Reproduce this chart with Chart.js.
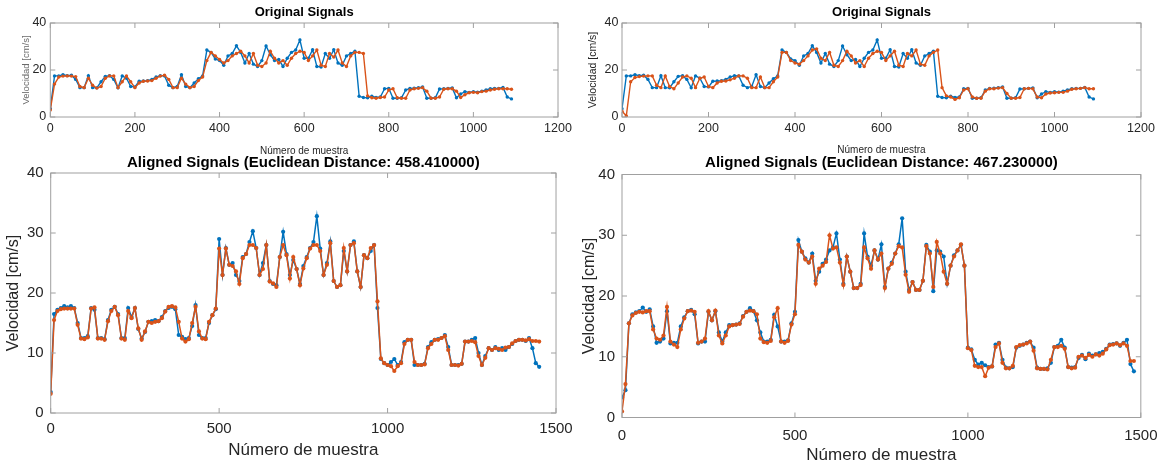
<!DOCTYPE html>
<html>
<head>
<meta charset="utf-8">
<script src="https://cdn.jsdelivr.net/npm/chart.js@4/dist/chart.umd.min.js"></script>
<style>
  body { margin: 0; background: #fff; }
  #wrap { position: relative; width: 1167px; height: 468px; overflow: hidden; }
  canvas { position: absolute; }
</style>
</head>
<body>
<div id="wrap">
  <canvas id="tl" width="580" height="160" style="left:0;top:0"></canvas>
  <canvas id="tr" width="587" height="160" style="left:580px;top:0"></canvas>
  <canvas id="bl" width="580" height="328" style="left:0;top:140px"></canvas>
  <canvas id="br" width="602" height="328" style="left:565px;top:140px"></canvas>
</div>
<script>
// sample spacing of the value arrays (every 10th sample)
const STEP = 10;

// reference signal (blue), same in both top panels
const origBlue = [3.5,17.5,17.5,18,17.6,17.8,16,12.5,12.5,17.6,
  12.5,12.4,15,17.3,17.6,16,12.4,17.5,16.5,13,
  12.8,15.2,15.3,15.5,16,17,17.6,17.5,13.5,12.5,
  13,18,13,12.5,14.5,16.3,17.5,28.5,27.5,24.7,
  24,22,26,27,30.3,27.5,23,27,22.5,21.5,
  24,30.2,26.5,24,24.5,21.5,25,27.5,28.5,32.8,
  25,25,28.6,21.5,21.3,27,25,28.6,23,22,
  26,27,28,8.8,8.3,8.2,8.8,8.3,8.5,12,
  12.2,8,8,8.2,11.5,12.2,12.3,12.5,12.8,8,
  8,8.2,11.9,12,12.2,12.4,8.2,9.8,10.8,10.5,
  10.8,10.6,11,11.5,12,12.2,12.2,12.6,8.5,7.7];

const origOrangeA = [3,14,17,17.4,17.5,17.4,17.2,13,12.5,16.5,
  13.5,12.3,13,16.5,17.5,17.5,12.5,15,17.5,15,
  12.5,14.5,15.2,15.3,15.5,16.5,17.4,17.8,16,12.5,
  12.5,16.5,14,12.5,13,15.5,17,24,27.5,26,
  24.5,23,24,26,27,28,26,23,27,22,
  21.5,23,28,25,23,24,22,25,27,28,
  27.5,24,26,28.5,22,21.5,27,25.5,28.5,23,
  21.5,26,27.5,27.5,27,9,8.2,8,8.3,8.5,
  11.5,12,8.2,8,8,11.5,12,12.2,12.5,11,
  8,8,8.5,11.8,12,12,11,8.3,9.5,10.3,
  10.5,10.3,10.8,11,11.5,11.8,12,12,12,11.8];

const origOrangeB = [2.5,0.5,15,16.8,17.2,17.4,17.5,17.5,13.5,12.5,
  17.5,13,12,14.5,17,17.5,16.5,12.5,16.5,17,
  13,12.5,14.5,15.2,15.3,15.8,16.5,17.5,17.5,16.5,
  12.5,12.5,17,12.5,12.5,15,17,27.5,27.5,24,
  23,22.5,24,26,28.5,29,25,24,27.5,22,
  21.5,24,28,26,23,24,21.5,25,27,28,
  27.5,24,26,28,22,21.5,27,26,28.5,22.5,
  22,26,27.5,28.5,12.5,9,8.5,7.5,8.2,11.5,
  12,8.5,8,8,11,12,12,12.3,12.5,10,
  8,8,8.3,12,12.2,12,8.5,8.2,9.8,10.2,
  10.3,10.5,10.5,11,11.8,12,12.2,12.5,12,12];

// aligned signals, left panel (distance 458.41)
const alignBlueA = [3.5,16.5,17.2,17.5,17.8,17.6,17.8,17.5,15,12.5,
  12.5,12.8,17.5,17.2,12.5,12.5,12.3,15.5,17.2,17.7,
  16.5,12.5,12.5,17.5,16,17.5,14,12.4,13.5,15.2,
  15.3,15.5,15.3,16,17,17.5,17.7,17.3,13,12.7,
  12.3,12.5,14.5,18,13,12.5,12.5,15,16.3,17.3,
  29,23,27.5,24.7,25,23,22,26,26.5,28.5,
  30.3,27.5,23,25,28,22,21.5,21.3,26,30.2,
  26.5,23,25.5,24,21.5,24.5,26,27.5,28.5,32.8,
  27.4,23,25,28.6,22,21,21.3,27,23.6,28,
  28.6,23.6,21,26.3,25.8,27,28,17.5,9,8.3,
  8,8.5,9,8,8.5,11.8,12.2,12.2,8,8,
  8,8.2,11,11.8,12.2,12.3,12.5,13,11,8,
  8,8,8.2,11.9,11.9,12.2,12.5,10,8,9.5,
  10.8,10.5,11,10.5,10.8,10.5,11,11.5,12,12.2,
  12.2,12,12.5,10.8,8.3,7.7];

const alignOrangeA = [3.2,15.5,17,17.3,17.4,17.4,17.4,17.4,14.7,12.4,
  12.3,12.6,17.4,17.6,12.4,12.4,12.2,15.3,17,17.7,
  16.3,12.4,12.2,17,15.8,17.5,14.1,12.2,13.6,15.2,
  15,15.2,15.3,15.8,16.9,17.7,17.8,17.6,15.2,12.4,
  11.9,12.3,15,17.7,13.6,12.4,12.3,15.2,16.3,17.4,
  27.4,23,27.4,24.7,24.5,23.6,21.5,25.8,26.5,28,
  28,27.5,23,24,28,21.9,21.6,21,26,28,
  26.3,22.4,26,24,21.3,24.1,25.8,27.4,28,28,
  27,23,24.7,28.3,22,21,21.3,27.5,23.6,28,
  28.3,23.6,21,26.3,25.8,27.5,28,18.6,9.1,8.3,
  8,7.8,7,7.8,8.3,11.5,12.2,12.2,8.5,8,
  8,8.1,10.8,11.5,12.2,12.2,12.5,12.8,10.5,8,
  8,7.9,8.2,11.9,11.9,12,11.8,9.5,8,9.2,
  10.8,10.5,10.8,10.7,10.5,10.9,11,11.6,12,12.2,
  12.2,12.1,12.3,12,12,11.9];

// aligned signals, right panel (distance 467.23)
const alignBlueB = [3.3,4.5,15.5,17,17.3,17.5,18.1,17.4,17.8,15,
  12.3,12.5,13,17.5,12.2,12.3,12.3,15,16.5,17.5,
  17.7,17,12.2,12.5,12.5,17.4,16,17.5,14,12.5,
  14,15.2,15.2,15.3,15.5,16.7,17.4,18,17.5,16,
  14,12.5,12.5,12.8,16.9,15,12.5,12.5,12.7,15.5,
  17.4,29.2,27.3,26.2,25.5,27,22.5,24,25.3,26,
  27.5,28,30.3,26,22,26.5,24,21.3,21.3,22,
  30.3,26.5,25,27.5,26,28.5,21.5,24.5,25.5,27,
  28.5,32.8,24,21,22.3,21,21,22.5,28.4,27.3,
  20.8,27.5,27.3,26.5,22,25,26.7,27.5,28.4,25,
  11.5,11.2,9.5,8.7,9,8.6,8.3,8.4,12,12.3,
  9.5,8.2,8.1,8.3,11.5,11.8,12,12.3,12.5,11.5,
  8.2,8,8,8.1,9,11.6,11.8,12.8,11.5,8.3,
  8.2,8.3,9.8,10.3,9.6,10.5,10.2,10.4,10.6,10.8,
  11.3,12,12.1,12.2,11.8,12.3,12.8,8.8,7.6];

const alignOrangeB = [1,5.5,15.5,16.8,17.2,17.4,17.3,17.5,17.5,14.5,
  13,12.8,13.5,18.2,12.5,12,11.6,14.5,16.3,17.5,
  17.6,17.4,12.3,12.5,13,17.5,16,17.6,13.5,12.2,
  13.5,15,15.2,15.3,15.4,16.6,17.4,17.6,17.5,17,
  13,12.4,12.3,12.6,16.5,18,12.5,12.3,12.6,15.3,
  17,28.4,27.3,26,25.5,26.5,22,24.5,25,25.6,
  30,27.8,28,25.5,21.8,26.5,24,21.3,21.3,21.8,
  28,26.2,24.5,27.5,26,27,21.3,24.5,25.3,27,
  28.2,28,23.5,20.7,22.3,21,21,22.5,28.2,27,
  21.5,28.9,27,24,22,25,26.5,27.5,28.5,25,
  11.4,11.1,8.5,8.3,8.3,6.8,8.2,8.4,11.6,12.2,
  9,8.1,8.1,8.5,11.6,11.9,12,12.2,12.5,11,
  8.1,8,8,7.9,9.5,11.6,11.6,11.8,11.3,8.3,
  8.1,8.2,10,10.2,9.8,10.3,10,10.4,10.2,10.5,
  11.2,11.9,12,12.2,11.9,12.2,11.8,9.3,9.3];

const BLUE = '#0072BD';
const ORANGE = '#D95319';
const FONT = '"Liberation Sans", Arial, Helvetica, sans-serif';
const INK = '#262626';

Chart.defaults.font.family = FONT;
Chart.defaults.color = INK;

function toPoints(values) {
    return values.map((v, i) => ({ x: i * STEP, y: v }));
}

// MATLAB style box with inward ticks on all four sides
const boxPlugin = {
    id: 'matlabBox',
    afterDatasetsDraw(chart) {
        const { ctx, chartArea: a, scales: { x, y } } = chart;
        const tl = 5;
        ctx.save();
        ctx.strokeStyle = '#a0a0a0';
        ctx.lineWidth = 1;
        ctx.strokeRect(a.left, a.top, a.right - a.left, a.bottom - a.top);
        ctx.beginPath();
        x.ticks.forEach(t => {
            const px = x.getPixelForValue(t.value);
            ctx.moveTo(px, a.bottom); ctx.lineTo(px, a.bottom - tl);
            ctx.moveTo(px, a.top); ctx.lineTo(px, a.top + tl);
        });
        y.ticks.forEach(t => {
            const py = y.getPixelForValue(t.value);
            ctx.moveTo(a.left, py); ctx.lineTo(a.left + tl, py);
            ctx.moveTo(a.right, py); ctx.lineTo(a.right - tl, py);
        });
        ctx.stroke();
        ctx.restore();
    }
};

function makePanel(id, p) {
    const ds = (label, values, color, order) => ({
        label,
        data: toPoints(values),
        borderColor: color,
        backgroundColor: color,
        borderWidth: p.lineWidth,
        pointRadius: p.pointRadius,
        pointBorderWidth: 0,
        pointBackgroundColor: color,
        tension: 0,
        order
    });

    return new Chart(document.getElementById(id), {
        type: 'line',
        data: {
            datasets: [
                ds('Referencia', p.blue, BLUE, 2),
                ds('Prueba', p.orange, ORANGE, 1)
            ]
        },
        options: {
            responsive: false,
            animation: false,
            devicePixelRatio: 1,
            parsing: false,
            layout: { padding: { left: 0, right: p.padRight, top: 0, bottom: 0 } },
            plugins: {
                legend: { display: false },
                tooltip: { enabled: false },
                title: {
                    display: true,
                    text: p.title,
                    fullSize: false,
                    color: '#000',
                    font: { size: p.titleSize, weight: 'bold' },
                    padding: p.titlePad
                }
            },
            scales: {
                x: {
                    type: 'linear',
                    min: 0,
                    max: p.xMax,
                    afterFit: s => { s.height = p.xHeight; },
                    grid: { display: false, drawTicks: false },
                    border: { display: false },
                    ticks: {
                        stepSize: p.xStep,
                        autoSkip: false,
                        maxRotation: 0,
                        padding: p.xTickPad,
                        color: INK,
                        font: { size: p.tickSize },
                        callback: v => String(v)
                    },
                    title: {
                        display: true,
                        text: 'Número de muestra',
                        color: INK,
                        font: { size: p.xTitleSize },
                        padding: { top: 0, bottom: p.xTitlePad }
                    }
                },
                y: {
                    min: 0,
                    max: 40,
                    afterFit: s => { s.width = p.yWidth; },
                    grid: { display: false, drawTicks: false },
                    border: { display: false },
                    ticks: {
                        stepSize: p.yStep,
                        padding: p.yTickPad,
                        color: INK,
                        font: { size: p.tickSize },
                        callback: v => String(v)
                    },
                    title: {
                        display: true,
                        text: 'Velocidad [cm/s]',
                        color: p.yTitleColor || INK,
                        font: { size: p.yTitleSize },
                        padding: { top: p.yTitlePad, bottom: 0 }
                    }
                }
            }
        },
        plugins: [boxPlugin]
    });
}

const topCommon = {
    xMax: 1200, xStep: 200, yStep: 20,
    titleSize: 13, titlePad: { top: 4.2, bottom: 3.2 },
    tickSize: 12.5, xTickPad: 4.5, xHeight: 43,
    xTitleSize: 10, lineWidth: 1.4, pointRadius: 1.7
};

const bottomCommon = {
    xMax: 1500, xStep: 500, yStep: 10,
    titleSize: 15, tickSize: 15,
    xTitleSize: 17, yTitleSize: 16, yTickPad: 7,
    lineWidth: 1.5, pointRadius: 2.1
};

makePanel('tl', Object.assign({}, topCommon, {
    title: 'Original Signals', blue: origBlue, orange: origOrangeA,
    yWidth: 50.3, padRight: 22, yTickPad: 4,
    xTitlePad: 3, yTitleSize: 9.5, yTitlePad: 20.3, yTitleColor: '#6a6a6a'
}));

makePanel('tr', Object.assign({}, topCommon, {
    title: 'Original Signals', blue: origBlue, orange: origOrangeB,
    yWidth: 42, padRight: 26, yTickPad: 3.5,
    xTitlePad: 3.5, yTitleSize: 10.5, yTitlePad: 6.7
}));

makePanel('bl', Object.assign({}, bottomCommon, {
    title: 'Aligned Signals (Euclidean Distance: 458.410000)',
    blue: alignBlueA, orange: alignOrangeA,
    titlePad: { top: 13.5, bottom: 1.5 },
    yWidth: 50.7, padRight: 22, xHeight: 55, xTickPad: 7.3,
    xTitlePad: 7.8, yTitlePad: 4.4
}));

makePanel('br', Object.assign({}, bottomCommon, {
    title: 'Aligned Signals (Euclidean Distance: 467.230000)',
    blue: alignBlueB, orange: alignOrangeB,
    titlePad: { top: 14, bottom: 2.5 },
    yWidth: 57, padRight: 22, xHeight: 50.5, xTickPad: 9.5,
    xTitlePad: 2.8, yTitlePad: 15.4
}));
</script>
</body>
</html>
